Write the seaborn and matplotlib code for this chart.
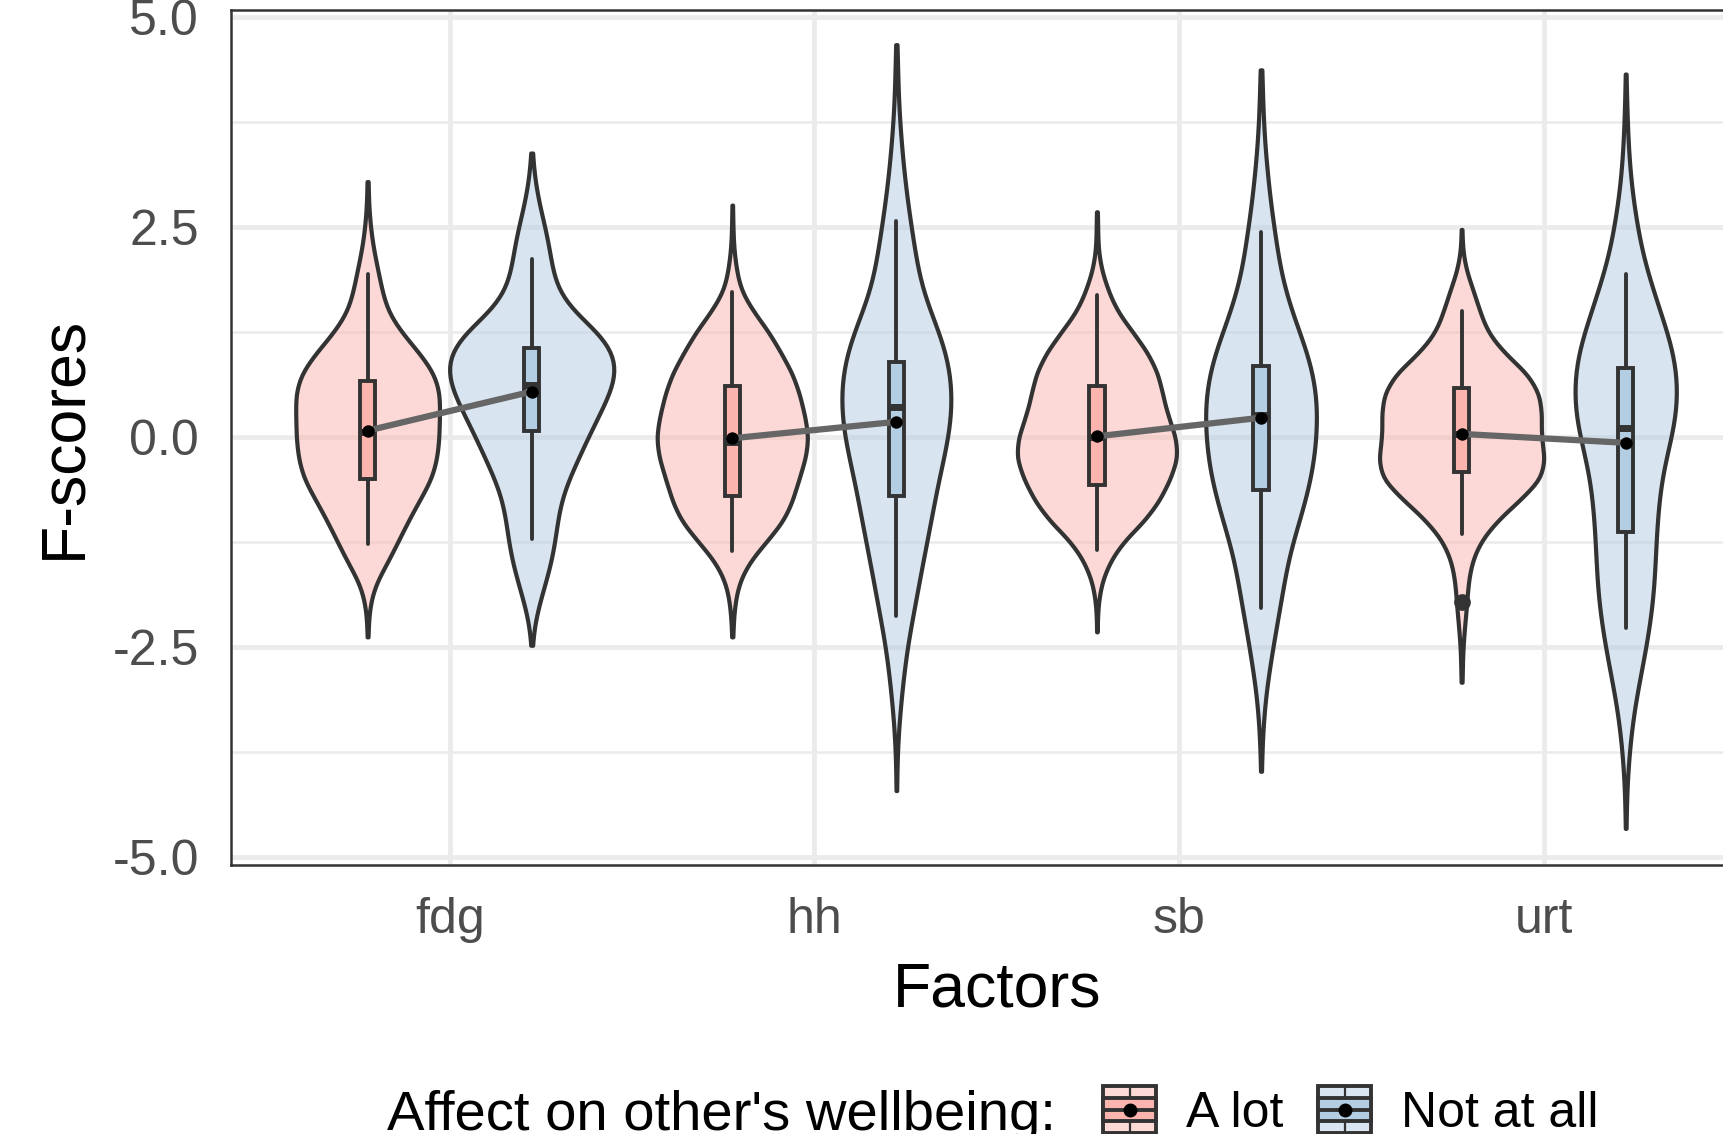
import numpy as np
import pandas as pd
import matplotlib
matplotlib.use('Agg')
import matplotlib.pyplot as plt
import seaborn as sns
from matplotlib.patches import Rectangle, Patch
from matplotlib.lines import Line2D
from matplotlib.legend_handler import HandlerBase
from matplotlib.ticker import MultipleLocator

factors = ['fdg', 'hh', 'sb', 'urt']
groups = ['A lot', 'Not at all']
colors = ['#FBB4AE', '#B3CDE3']

# F-score levels used to describe the shape of each violin
levels = [-4.5, -4.25, -4.0, -3.75, -3.5, -3.25, -3.0, -2.75, -2.5, -2.25,
          -2.0, -1.75, -1.5, -1.25, -1.0, -0.75, -0.5, -0.25, 0.0, 0.25,
          0.5, 0.75, 1.0, 1.25, 1.5, 1.75, 2.0, 2.25, 2.5, 2.75,
          3.0, 3.25, 3.5, 3.75, 4.0, 4.25, 4.5]

# relative counts at each level
fdg_alot = [0, 0, 0, 0, 0, 0, 0, 0, 0, 1, 6, 21, 57, 87, 117, 150, 186, 201, 207, 207,
            210, 195, 150, 96, 56, 41, 29, 16, 8, 3, 1, 0, 0, 0, 0, 0, 0]
fdg_not = [0, 0, 0, 0, 0, 0, 0, 0, 0, 6, 20, 38, 55, 66, 73, 83, 105, 133, 160, 190,
           220, 242, 236, 192, 113, 72, 58, 50, 38, 22, 11, 3, 0, 0, 0, 0, 0]
hh_alot = [0, 0, 0, 0, 0, 0, 0, 0, 0, 2, 7, 18, 48, 102, 156, 183, 201, 222, 231, 219,
           204, 183, 147, 111, 62, 24, 12, 4, 2, 0, 0, 0, 0, 0, 0, 0, 0]
hh_not = [0, 0, 1, 2, 5, 10, 15, 22, 28, 39, 50, 60, 70, 82, 92, 103, 113, 127, 140, 148,
          150, 146, 135, 115, 90, 67, 57, 48, 40, 31, 24, 18, 13, 9, 5, 4, 3]
sb_alot = [0, 0, 0, 0, 0, 0, 0, 0, 0, 0, 3, 12, 35, 75, 140, 185, 215, 238, 232, 208,
           193, 180, 150, 105, 58, 32, 12, 3, 2, 0, 0, 0, 0, 0, 0, 0, 0]
sb_not = [0, 0, 0, 2, 4, 8, 13, 22, 30, 40, 49, 59, 66, 81, 98, 114, 128, 137, 142, 145,
          143, 134, 120, 98, 78, 61, 48, 41, 33, 25, 19, 14, 9, 6, 4, 3, 0]
urt_alot = [0, 0, 0, 0, 0, 0, 0, 2, 4, 9, 15, 19, 29, 54, 104, 174, 239, 249, 236, 239,
            234, 199, 126, 76, 54, 34, 12, 2, 0, 0, 0, 0, 0, 0, 0, 0, 0]
urt_not = [1, 2, 5, 9, 15, 22, 32, 45, 55, 65, 73, 78, 80, 82, 85, 90, 95, 108, 125, 139,
           142, 140, 132, 113, 92, 75, 55, 40, 32, 22, 14, 10, 6, 4, 3, 0, 0]

# violin tips (min / max of each group)
tip_lo_alot = [-2.38, -2.38, -2.32, -2.92]
tip_hi_alot = [3.04, 2.76, 2.68, 2.47]
tip_lo_not = [-2.48, -4.21, -3.98, -4.66]
tip_hi_not = [3.38, 4.67, 4.37, 4.32]

# box summaries
q1_alot = [-0.50, -0.70, -0.575, -0.417]
med_alot = [0.06, -0.06, 0.0, 0.04]
q3_alot = [0.67, 0.607, 0.606, 0.583]
wlo_alot = [-1.28, -1.36, -1.34, -1.16]
whi_alot = [1.94, 1.73, 1.69, 1.50]
out_alot = [[], [], [], [-1.96]]
mean_alot = [0.075, -0.016, 0.007, 0.036]

q1_not = [0.075, -0.70, -0.63, -1.13]
med_not = [0.62, 0.36, 0.26, 0.107]
q3_not = [1.06, 0.89, 0.84, 0.82]
wlo_not = [-1.21, -2.13, -2.04, -2.28]
whi_not = [2.12, 2.57, 2.445, 1.94]
out_not = [[], [], [], []]
mean_not = [0.54, 0.18, 0.229, -0.07]

shapes = {'A lot': [fdg_alot, hh_alot, sb_alot, urt_alot],
          'Not at all': [fdg_not, hh_not, sb_not, urt_not]}
tips = {'A lot': (tip_lo_alot, tip_hi_alot), 'Not at all': (tip_lo_not, tip_hi_not)}

frames = []
for g in groups:
    for i, f in enumerate(factors):
        vals = np.concatenate([np.repeat(levels, shapes[g][i]),
                               [tips[g][0][i], tips[g][1][i]]])
        frames.append(pd.DataFrame({'Factors': f, 'group': g, 'score': vals}))
df = pd.concat(frames, ignore_index=True)

sns.set_style('white')
plt.rcParams['font.family'] = ['Liberation Sans', 'DejaVu Sans']
plt.rcParams['axes.unicode_minus'] = False
plt.rcParams['text.color'] = 'black'
plt.rcParams['axes.labelcolor'] = 'black'

dark = '#333333'
fig = plt.figure(figsize=(17.24, 11.34), dpi=100)
ax = fig.add_axes([0.1339, 0.2369, 0.8884, 0.7541])

sns.violinplot(data=df, x='Factors', y='score', hue='group', order=factors,
               hue_order=groups, palette=colors, saturation=1, width=0.9,
               density_norm='area', cut=0, inner=None, bw_method=0.2,
               linewidth=3.0, linecolor=dark, legend=False, ax=ax)
for coll in ax.collections:
    fc = coll.get_facecolor()
    fc[:, 3] = 0.5
    coll.set_facecolor(fc)

dodge = 0.225
xs = np.arange(len(factors))
box_sets = [(q1_alot, med_alot, q3_alot, wlo_alot, whi_alot, out_alot, -dodge, colors[0]),
            (q1_not, med_not, q3_not, wlo_not, whi_not, out_not, dodge, colors[1])]
for q1, med, q3, lo, hi, out, off, col in box_sets:
    stats = [dict(q1=q1[i], med=med[i], q3=q3[i], whislo=lo[i], whishi=hi[i], fliers=out[i])
             for i in range(len(factors))]
    ax.bxp(stats, positions=xs + off, widths=0.042, patch_artist=True, showcaps=False,
           manage_ticks=False, zorder=3,
           boxprops=dict(facecolor=col, edgecolor=dark, linewidth=2.8),
           medianprops=dict(color=dark, linewidth=5),
           whiskerprops=dict(color=dark, linewidth=2.8),
           flierprops=dict(marker='o', markerfacecolor=dark, markeredgecolor=dark,
                           markersize=11))

for i in xs:
    ax.plot([i - dodge, i + dodge], [mean_alot[i], mean_not[i]], color='#666666',
            lw=4.5, zorder=4)
ax.scatter(xs - dodge, mean_alot, s=80, color='black', linewidths=0, zorder=5)
ax.scatter(xs + dodge, mean_not, s=80, color='black', linewidths=0, zorder=5)

ax.set_xlim(-0.6, 3.6)
ax.set_ylim(-5.1, 5.08)
ax.set_xticks(xs)
ax.set_xticklabels(factors)
ax.set_yticks([-5, -2.5, 0, 2.5, 5])
ax.set_yticklabels(['-5.0', '-2.5', '0.0', '2.5', '5.0'])
ax.yaxis.set_minor_locator(MultipleLocator(1.25))
ax.set_axisbelow(True)
ax.grid(which='major', color='#EBEBEB', lw=3.4)
ax.grid(which='minor', axis='y', color='#EBEBEB', lw=1.8)
ax.tick_params(which='major', length=12, width=2.6, color=dark, labelsize=36,
               labelcolor='#4D4D4D', pad=10.8)
ax.tick_params(which='minor', length=0)
for s in ax.spines.values():
    s.set_color(dark)
    s.set_linewidth(1.8)

ax.set_xlabel('Factors', fontsize=45, color='black')
ax.xaxis.set_label_coords(0.5, -0.111)
ax.set_ylabel('F-scores', fontsize=45, color='black')
ax.yaxis.set_label_coords(-0.0898, 0.5)


class KeyHandler(HandlerBase):
    def __init__(self, light, fill):
        super().__init__()
        self.light = light
        self.fill = fill

    def create_artists(self, legend, orig_handle, xdescent, ydescent, width, height,
                       fontsize, trans):
        x0, y0 = -xdescent, -ydescent
        outer = Rectangle((x0, y0), width, height, facecolor=self.light, edgecolor=dark,
                          lw=2.8, transform=trans)
        whisk = Line2D([x0 + width / 2] * 2, [y0, y0 + height], color=dark, lw=1.6,
                       transform=trans)
        box = Rectangle((x0, y0 + 0.25 * height), width, 0.5 * height, facecolor=self.fill,
                        edgecolor=dark, lw=2.8, transform=trans)
        mid = Line2D([x0, x0 + width], [y0 + height / 2] * 2, color=dark, lw=2.8,
                     transform=trans)
        dot = Line2D([x0 + width / 2], [y0 + height / 2], marker='o', color='black',
                     markersize=9, lw=0, transform=trans)
        return [outer, whisk, box, mid, dot]


light = ['#FDDAD6', '#D9E6F1']
handles = [Patch(), Patch()]
fig.legend(handles, groups, loc='center left',
           bbox_to_anchor=(1103 / 1724, (1134 - 1111.5) / 1134), ncol=2, frameon=False,
           fontsize=36, handlelength=1.07, handleheight=1.07, handletextpad=0.6,
           columnspacing=0.68, borderpad=0, borderaxespad=0, labelcolor='black',
           handler_map={handles[0]: KeyHandler(light[0], colors[0]),
                        handles[1]: KeyHandler(light[1], colors[1])})
fig.text(387 / 1724, (1134 - 1130) / 1134, "Affect on other's wellbeing:", fontsize=40.5,
         ha='left', va='baseline', color='black')

fig.savefig('out.png', dpi=100)
